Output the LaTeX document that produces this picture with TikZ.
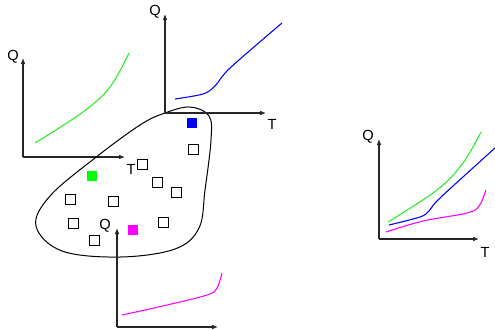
\documentclass[tikz,border=0pt]{standalone}
\usepackage{fontspec}
\setmainfont{Liberation Sans}
\usetikzlibrary{arrows.meta}
\definecolor{mgreen}{RGB}{0,255,0}
\definecolor{mcurve}{RGB}{40,235,40}
\definecolor{mblue}{RGB}{0,0,255}
\definecolor{mmag}{RGB}{255,0,255}
\tikzset{
  ax/.style={line width=0.8pt, draw=black!85, -{Latex[length=4.5pt,width=3.5pt]}},
  crv/.style={line width=0.8pt},
  lbl/.style={font=\fontsize{11}{13}\selectfont, inner sep=0pt},
  sq/.style={draw=black, line width=0.75pt, fill=white, minimum size=7.5pt, inner sep=0pt},
  fsq/.style={minimum size=7.5pt, inner sep=0pt},
}
\begin{document}
\begin{tikzpicture}[x=0.75pt,y=-0.75pt]
\useasboundingbox (0,0) rectangle (495,329);
% top-left graph
\coordinate (o1) at (23,157);
\coordinate (y1) at (23,58);
\coordinate (x1) at (125,157);
\draw[ax] (o1) -- (y1);
\draw[ax] (o1) -- (x1);
\node[lbl] (q1) at (13,57) {Q};
\node[lbl] (t1) at (131,169) {T};
\draw[crv, mcurve] plot[smooth, tension=0.6] coordinates {(35,143) (83,112) (110,87) (129,53)};
% blob
\draw[line width=0.75pt] plot[smooth cycle, tension=0.6] coordinates {
 (190,107) (209,116) (211,140) (205,190) (199,228) (175,249) (120,257) (62,251) (36,226) (50,196) (95,158) (140,125) (165,113)};
% top-middle graph
\coordinate (o2) at (165,113);
\coordinate (y2) at (165,14);
\coordinate (x2) at (266,113);
\draw[ax] (o2) -- (y2);
\draw[ax] (o2) -- (x2);
\node[lbl] (q2) at (155,12) {Q};
\node[lbl] (t2) at (272,124) {T};
\draw[crv, mblue] plot[smooth, tension=0.5] coordinates {(175,99) (203,94) (215,86) (230,68) (282,23)};
% squares
\node[fsq, fill=mblue] (sb) at (192,123) {};
\node[fsq, fill=mgreen] (sg) at (92,176) {};
\node[fsq, fill=mmag] (sm) at (133,230) {};
\node[sq] (s1) at (193,149) {};
\node[sq] (s2) at (142,164) {};
\node[sq] (s3) at (157,182) {};
\node[sq] (s4) at (176,192) {};
\node[sq] (s5) at (70,199) {};
\node[sq] (s6) at (113,201) {};
\node[sq] (s7) at (73,223) {};
\node[sq] (s8) at (163,222) {};
\node[sq] (s9) at (94,240) {};
% bottom graph
\coordinate (o3) at (117,327);
\coordinate (y3) at (117,228);
\coordinate (x3) at (218,327);
\draw[ax] (o3) -- (y3);
\draw[ax] (o3) -- (x3);
\node[lbl] (q3) at (105,226) {Q};
\draw[crv, mmag] plot[smooth, tension=0.6] coordinates {(122,315) (167,305) (207,295) (217,288) (222,273)};
% right graph
\coordinate (o4) at (379,239);
\coordinate (y4) at (379,139);
\coordinate (x4) at (479,239);
\draw[ax] (o4) -- (y4);
\draw[ax] (o4) -- (x4);
\node[lbl] (q4) at (368,137) {Q};
\node[lbl] (t4) at (485,252) {T};
\draw[crv, mcurve] plot[smooth, tension=0.6] coordinates {(388,222) (437,190) (463,163) (481,132)};
\draw[crv, mblue] plot[smooth, tension=0.5] coordinates {(389,225) (420,217) (429,211) (440,198) (495,148)};
\draw[crv, mmag] plot[smooth, tension=0.6] coordinates {(386,232) (423,221) (467,213) (479,206) (486,190)};
\end{tikzpicture}
\end{document}
